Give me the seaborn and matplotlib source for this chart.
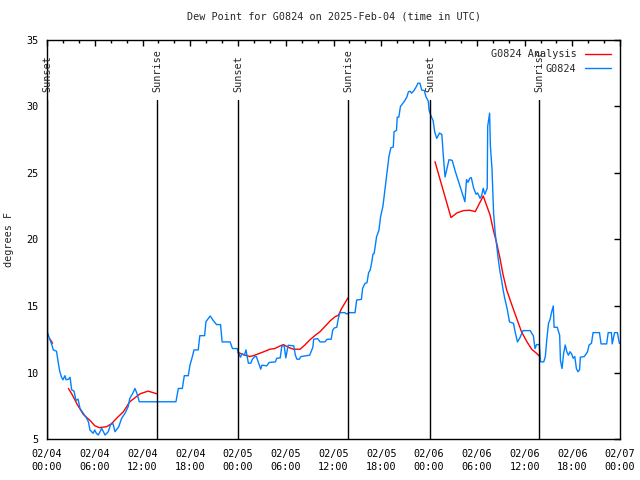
import pandas as pd
import numpy as np
import matplotlib
matplotlib.use("Agg")
import matplotlib.pyplot as plt
import seaborn as sns

# observed dew point (hours since 2025-02-04 00:00 UTC, deg F)
obs_hours = [0.0, 0.3, 0.6, 0.8, 1.2, 1.4, 1.6, 1.8, 2.0, 2.26, 2.4, 2.7, 2.9, 3.1, 3.4, 3.64, 3.9,
             4.15, 4.56, 4.98, 5.2, 5.4, 5.8, 6.0, 6.2, 6.45, 6.87, 7.3, 7.7, 8.0, 8.3, 8.54, 9.0,
             9.38, 9.8, 10.2, 10.4, 10.77, 11.05, 11.3, 11.6, 12.1, 13.8, 16.2, 16.5, 17.0, 17.25,
             17.75, 17.96, 18.2, 18.47, 19.0, 19.2, 19.8, 19.97, 20.5, 20.9, 21.3, 21.8, 22.0, 23.0,
             23.3, 23.9, 24.03, 24.3, 24.5, 24.8, 25.0, 25.3, 25.6, 25.8, 26.1, 26.3, 26.5, 26.85,
             27.0, 27.6, 27.9, 28.7, 28.86, 29.3, 29.5, 29.8, 30.0, 30.3, 31.0, 31.2, 31.4, 31.7,
             31.9, 32.7, 33.0, 33.4, 33.5, 34.0, 34.3, 34.9, 35.2, 35.7, 35.9, 36.1, 36.4, 36.6,
             36.8, 37.4, 37.65, 38.0, 38.7, 38.9, 39.5, 39.65, 39.95, 40.2, 40.4, 40.6, 40.8, 40.95,
             41.1, 41.4, 41.7, 41.9, 42.2, 42.4, 42.6, 42.8, 42.96, 43.2, 43.5, 43.6, 43.9, 44.0,
             44.2, 44.4, 44.7, 44.9, 45.2, 45.4, 45.6, 45.8, 46.1, 46.4, 46.6, 46.85, 47.07, 47.4,
             47.6, 47.9, 48.0, 48.3, 48.5, 48.7, 48.96, 49.3, 49.6, 49.8, 50.0, 50.15, 50.5, 50.9,
             51.3, 51.7, 52.1, 52.5, 52.7, 52.9, 53.1, 53.3, 53.6, 53.9, 54.1, 54.4, 54.6, 54.8,
             55.0, 55.3, 55.36, 55.6, 55.7, 55.9, 56.1, 56.3, 56.5, 56.7, 56.9, 57.1, 57.3, 57.5,
             57.8, 58.1, 58.6, 58.8, 59.1, 59.4, 59.8, 60.7, 61.1, 61.3, 61.5, 61.85, 62.0, 62.4,
             62.6, 62.8, 63.0, 63.2, 63.4, 63.6, 63.7, 64.1, 64.4, 64.5, 64.7, 64.9, 65.1, 65.3,
             65.5, 65.7, 65.9, 66.1, 66.3, 66.5, 66.7, 66.9, 67.0, 67.5, 67.9, 68.1, 68.4, 68.6,
             69.4, 69.6, 70.3, 70.5, 70.9, 71.0, 71.3, 71.65, 71.9, 72.0]
obs_dewpt = [13.1, 12.6, 12.1, 11.7, 11.6, 10.8, 10.1, 9.7, 9.45, 9.76, 9.45, 9.5, 9.64, 8.7, 8.6, 7.9, 8.0,
             7.3, 6.93, 6.56, 6.3, 5.68, 5.43, 5.68, 5.43, 5.3, 5.8, 5.3, 5.55, 6.1, 6.15, 5.55, 5.9,
             6.56, 6.93, 7.43, 8.05, 8.43, 8.8, 8.43, 7.8, 7.8, 7.8, 7.8, 8.8, 8.8, 9.76,
             9.76, 10.56, 11.05, 11.7, 11.7, 12.77, 12.77, 13.82, 14.25, 13.9, 13.6, 13.6, 12.3, 12.3,
             11.8, 11.8, 11.5, 11.15, 11.4, 11.3, 11.7, 10.7, 10.7, 11.0, 11.2, 11.2, 10.85, 10.25,
             10.55, 10.5, 10.75, 10.8, 11.07, 11.1, 12.0, 12.0, 11.1, 12.05, 12.0, 11.3, 11.0, 11.0,
             11.2, 11.27, 11.3, 11.9, 12.5, 12.55, 12.3, 12.3, 12.5, 12.5, 13.2, 13.35, 13.4, 14.07,
             14.5, 14.5, 14.4, 14.5, 14.5, 15.45, 15.5, 16.33, 16.7, 16.75, 17.5, 17.7, 18.3, 18.9,
             18.95, 20.2, 20.7, 21.7, 22.5, 23.5, 24.5, 25.5, 26.25, 26.9, 26.95, 28.1, 28.2, 29.2,
             29.2, 30.0, 30.24, 30.4, 30.7, 31.1, 31.15, 31.0, 31.2, 31.5, 31.75, 31.75, 31.24, 31.2,
             30.74, 30.4, 29.7, 29.2, 28.95, 28.1, 27.6, 28.0, 27.9, 26.2, 24.7, 25.1, 26.0, 25.95,
             25.1, 24.35, 23.6, 22.84, 24.5, 24.3, 24.6, 24.65, 23.85, 23.4, 23.5, 23.1, 23.3, 23.85,
             23.4, 23.85, 28.5, 29.5, 27.0, 25.3, 22.0, 20.5, 19.45, 18.46, 17.6, 16.95, 16.2, 15.58,
             14.8, 13.8, 13.7, 13.07, 12.3, 12.6, 13.15, 13.15, 12.75, 11.8, 12.1, 12.1, 10.8, 10.8,
             11.2, 12.57, 13.7, 14.0, 14.57, 15.0, 13.4, 13.4, 12.8, 10.9, 10.3, 11.44, 12.07, 11.56,
             11.3, 11.56, 11.4, 11.07, 11.2, 10.3, 10.06, 10.2, 11.15, 11.2, 11.56, 12.07, 12.2, 13.0,
             13.0, 12.15, 12.15, 13.0, 13.0, 12.15, 13.0, 13.0, 12.2, 12.2]

# analysis dew point, in separate pieces
ana_piece = [0, 0,
             1, 1, 1, 1, 1, 1, 1, 1, 1, 1, 1, 1, 1, 1, 1, 1,
             2, 2, 2, 2, 2, 2, 2, 2, 2, 2, 2, 2, 2, 2, 2, 2, 2, 2, 2, 2, 2, 2, 2,
             3, 3, 3, 3, 3, 3, 3, 3, 3, 3, 3, 3, 3, 3, 3, 3, 3, 3, 3, 3, 3]
ana_hours = [0.4, 0.7,
             2.7, 3.2, 3.8, 4.56, 5.4, 6.0, 6.6, 7.5, 8.1, 8.75, 9.6, 10.4, 11.05, 11.7, 12.7, 13.8,
             24.0, 24.9, 25.5, 26.1, 26.75, 27.4, 28.0, 28.6, 29.3, 29.7, 30.3, 30.95, 31.8, 32.4,
             33.0, 33.7, 34.3, 34.9, 35.55, 36.2, 36.6, 37.0, 37.8,
             48.74, 50.75, 51.5, 52.3, 53.1, 53.8, 54.8, 55.2, 55.65, 56.07, 56.5, 56.9, 57.3, 57.75,
             58.4, 59.0, 59.6, 60.3, 60.9, 61.5, 61.9]
ana_dewpt = [12.5, 12.2,
             8.8, 8.3, 7.6, 6.85, 6.4, 6.0, 5.85, 5.93, 6.15, 6.56, 7.05, 7.8, 8.1, 8.4, 8.6, 8.4,
             11.5, 11.3, 11.2, 11.3, 11.45, 11.6, 11.75, 11.8, 12.0, 12.1, 11.9, 11.75, 11.75, 12.07,
             12.44, 12.8, 13.07, 13.45, 13.87, 14.2, 14.3, 14.8, 15.6,
             25.85, 21.65, 22.0, 22.17, 22.2, 22.1, 23.27, 22.6, 21.85, 20.7, 19.7, 18.6, 17.33, 16.2,
             15.07, 14.07, 13.07, 12.3, 11.74, 11.44, 11.2]

sun_hours = [0.0, 13.85, 24.05, 37.85, 48.1, 61.85]
sun_labels = ["Sunset", "Sunrise", "Sunset", "Sunrise", "Sunset", "Sunrise"]

tick_hours = [0, 6, 12, 18, 24, 30, 36, 42, 48, 54, 60, 66, 72]
tick_labels = ["02/04\n00:00", "02/04\n06:00", "02/04\n12:00", "02/04\n18:00",
               "02/05\n00:00", "02/05\n06:00", "02/05\n12:00", "02/05\n18:00",
               "02/06\n00:00", "02/06\n06:00", "02/06\n12:00", "02/06\n18:00",
               "02/07\n00:00"]

obs = pd.DataFrame({"hour": obs_hours, "dewpt": obs_dewpt})
ana = pd.DataFrame({"hour": ana_hours, "dewpt": ana_dewpt, "piece": ana_piece})

sns.set_style("white")
plt.rcParams['font.family'] = ['DejaVu Sans Mono']
fs = 7.3
plt.rcParams['font.size'] = fs

fig = plt.figure(figsize=(6.4, 4.8), dpi=100)
ax = fig.add_axes([0.0734, 0.0854, 0.8956, 0.8313])

sns.lineplot(data=ana, x="hour", y="dewpt", units="piece", estimator=None,
             color="#ff0000", lw=1, ax=ax, legend=False)
sns.lineplot(data=obs, x="hour", y="dewpt", color="#0080ff", lw=1, ax=ax, legend=False)

for h, lab in zip(sun_hours, sun_labels):
    ax.plot([h, h], [5, 30.5], color="black", lw=1)
    ax.text(h, 31.1, lab, rotation=90, ha="center", va="bottom", fontsize=fs)

ax.set_xlim(0, 72)
ax.set_ylim(5, 35)
ax.set_xticks(tick_hours)
ax.set_xticklabels(tick_labels, linespacing=1.45)
ax.set_xticks(np.arange(0, 73, 2), minor=True)
ax.set_yticks([5, 10, 15, 20, 25, 30, 35])
ax.tick_params(which="both", direction="in", top=True, right=True, colors="black")
ax.tick_params(which="major", length=4, width=1, pad=7)
ax.tick_params(axis="y", which="major", pad=6)
ax.tick_params(which="minor", length=2.5, width=1)
for s in ax.spines.values():
    s.set_color("black")
    s.set_linewidth(1)

ax.set_xlabel("")
ax.set_ylabel("degrees F", labelpad=9)
ax.set_title("Dew Point for G0824 on 2025-Feb-04 (time in UTC)", fontsize=fs, pad=15)

handles = [plt.Line2D([], [], color="#ff0000", lw=1), plt.Line2D([], [], color="#0080ff", lw=1)]
ax.legend(handles, ["G0824 Analysis", "G0824"], loc="upper right", frameon=False,
          markerfirst=False, handlelength=2.6, handletextpad=0.8, borderaxespad=0.5,
          labelspacing=0.45, fontsize=fs)

fig.savefig("out.png", dpi=100)
